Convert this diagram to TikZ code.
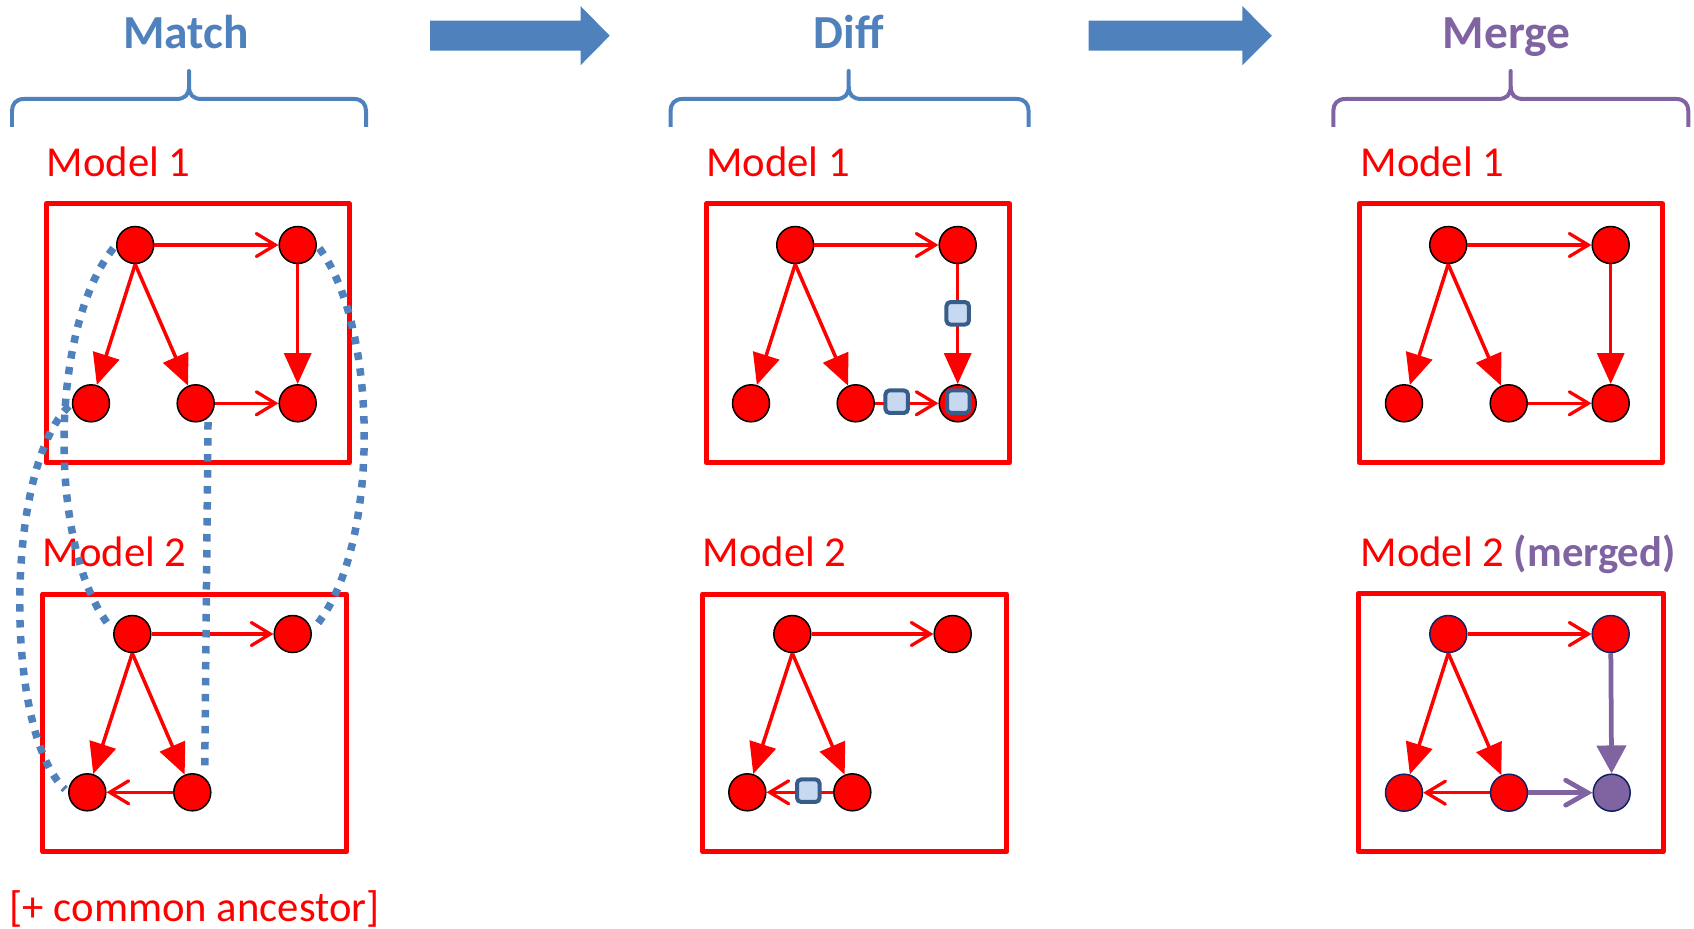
\documentclass[tikz,border=0pt]{standalone}
\usepackage{fontspec}
\setmainfont{Carlito}
\usetikzlibrary{arrows.meta}
\definecolor{obl}{RGB}{79,129,189}
\definecolor{opu}{RGB}{128,100,162}
\definecolor{mfill}{RGB}{198,217,241}
\definecolor{mdraw}{RGB}{56,93,138}
\definecolor{navy}{RGB}{16,32,96}
\tikzset{
 rn/.style={circle,fill=red,draw=black,line width=0.03cm,minimum size=0.74cm,inner sep=0pt},
 rnm/.style={rn,draw=navy},
 pn/.style={rnm,fill=opu},
 box/.style={draw=red,line width=0.1cm,line join=round},
 tri/.style={draw=red,line width=0.07cm,-{Triangle[length=0.62cm,width=0.54cm]}},
 bar/.style={draw=red,line width=0.065cm,-{Straight Barb[length=0.38cm,width=0.46cm,line cap=round]}},
 ptri/.style={draw=opu,line width=0.095cm,-{Triangle[length=0.56cm,width=0.58cm]}},
 pbar/.style={draw=opu,line width=0.095cm,-{Straight Barb[length=0.44cm,width=0.5cm,line cap=round]}},
 dmark/.style={rectangle,rounded corners=0.08cm,fill=mfill,draw=mdraw,line width=0.08cm,minimum size=0.45cm,inner sep=0pt},
 mlabel/.style={anchor=base west,inner sep=0pt,text=red,font=\fontsize{24.3}{29}\selectfont},
 title/.style={anchor=base,inner sep=0pt,font=\fontsize{27}{32}\selectfont\bfseries},
 brace/.style={line width=0.08cm,line join=round},
 dots/.style={draw=obl,line width=0.15cm,dash pattern=on 0.15cm off 0.17cm,shorten <=0.08cm,shorten >=0.08cm},
 bigarrow/.style={fill=obl},
}
\begin{document}
\begin{tikzpicture}[x=0.02cm,y=-0.02cm]
\useasboundingbox (0,0) rectangle (1694,929);

% titles
\node[title,text=obl] (tmatch) at (186,48.3) {Match};
\node[title,text=obl] (tdiff) at (848.5,48.3) {Diff};
\node[title,text=opu] (tmerge) at (1506.7,48.3) {Merge};

% big arrows
\fill[bigarrow] (430.2,20.7) -- (580.5,20.7) -- (580.5,6) -- (609.7,35.7) -- (580.5,65.3) -- (580.5,50.7) -- (430.2,50.7) -- cycle;
\fill[bigarrow] (1088.5,20.7) -- (1242.3,20.7) -- (1242.3,6) -- (1271.8,35.7) -- (1242.3,65.3) -- (1242.3,50.7) -- (1088.5,50.7) -- cycle;

% braces
\draw[brace,obl] (12,127) -- (12,111) .. controls (12,104) and (16,99) .. (24,99) -- (176,99) .. controls (185,99) and (189,95) .. (189,86) -- (189,71) -- (189,86) .. controls (189,95) and (193,99) .. (202,99) -- (354,99) .. controls (362,99) and (366,104) .. (366,111) -- (366,127);
\draw[brace,obl] (670.5,127) -- (670.5,111) .. controls (670.5,104) and (674.5,99) .. (682.5,99) -- (835.7,99) .. controls (844.7,99) and (848.7,95) .. (848.7,86) -- (848.7,71) -- (848.7,86) .. controls (848.7,95) and (852.7,99) .. (861.7,99) -- (1016.6,99) .. controls (1024.6,99) and (1028.6,104) .. (1028.6,111) -- (1028.6,127);
\draw[brace,opu] (1333.3,127) -- (1333.3,111) .. controls (1333.3,104) and (1337.3,99) .. (1345.3,99) -- (1497.7,99) .. controls (1506.7,99) and (1510.7,95) .. (1510.7,86) -- (1510.7,71) -- (1510.7,86) .. controls (1510.7,95) and (1514.7,99) .. (1523.7,99) -- (1676.3,99) .. controls (1684.3,99) and (1688.3,104) .. (1688.3,111) -- (1688.3,127);

% labels
\node[mlabel] (lm1) at (46.5,176.7) {Model 1};
\node[mlabel] (lm2) at (42.5,566.3) {Model 2};
\node[mlabel] (ld1) at (705.8,176.7) {Model 1};
\node[mlabel] (ld2) at (702.5,566.3) {Model 2};
\node[mlabel] (lg1) at (1360.2,176.7) {Model 1};
\node[mlabel] (lg2) at (1360.2,566) {Model 2 \textcolor{opu}{\bfseries(merged)}};
\node[mlabel] (lca) at (9.5,921.5) {[+ common ancestor]};

% boxes
\draw[box] (46,204) rectangle (349.5,462.7);
\draw[box] (42.7,594) rectangle (346.7,851.7);
\draw[box] (706,204) rectangle (1009.5,462.7);
\draw[box] (702.7,594) rectangle (1006.7,851.7);
\draw[box] (1359,204) rectangle (1662.5,462.7);
\draw[box] (1358.3,593.3) rectangle (1663.3,851.7);

% Match nodes
\node[rn] (ma) at (135.2,245) {};
\node[rn] (mb) at (297.7,245) {};
\node[rn] (mc) at (91,403.3) {};
\node[rn] (md) at (195.7,403.3) {};
\node[rn] (me) at (297.7,403.3) {};
\node[rn] (mf) at (132.3,634) {};
\node[rn] (mg) at (292.7,634) {};
\node[rn] (mh) at (87.3,792.3) {};
\node[rn] (mi) at (192.3,792.3) {};
% Diff nodes
\node[rn] (da) at (795.2,245) {};
\node[rn] (db) at (957.7,245) {};
\node[rn] (dc) at (751,403.3) {};
\node[rn] (dd) at (855.7,403.3) {};
\node[rn] (de) at (957.7,403.3) {};
\node[rn] (df) at (792.3,634) {};
\node[rn] (dg) at (952.7,634) {};
\node[rn] (dh) at (747.3,792.3) {};
\node[rn] (di) at (852.3,792.3) {};
% Merge nodes
\node[rn] (ga) at (1448.2,245) {};
\node[rn] (gb) at (1610.7,245) {};
\node[rn] (gc) at (1404,403.3) {};
\node[rn] (gd) at (1508.7,403.3) {};
\node[rn] (ge) at (1610.7,403.3) {};
\node[rnm] (gf) at (1448.3,634) {};
\node[rnm] (gg) at (1610.7,634) {};
\node[rnm] (gh) at (1404,792.7) {};
\node[rnm] (gi) at (1509,792.7) {};
\node[pn] (gj) at (1611.7,792.7) {};

% Match edges
\draw[bar] (ma) -- (mb);
\draw[tri] (ma.south) -- (mc);
\draw[tri] (ma.south) -- (md);
\draw[tri] (mb) -- (me);
\draw[bar] (md) -- (me);
\draw[bar] (mf) -- (mg);
\draw[tri] (mf.south) -- (mh);
\draw[tri] (mf.south) -- (mi);
\draw[bar] (mi) -- (mh);
% Diff edges
\draw[bar] (da) -- (db);
\draw[tri] (da.south) -- (dc);
\draw[tri] (da.south) -- (dd);
\draw[tri] (db) -- (de);
\draw[bar] (dd) -- (de);
\draw[bar] (df) -- (dg);
\draw[tri] (df.south) -- (dh);
\draw[tri] (df.south) -- (di);
\draw[bar] (di) -- (dh);
% Merge edges
\draw[bar] (ga) -- (gb);
\draw[tri] (ga.south) -- (gc);
\draw[tri] (ga.south) -- (gd);
\draw[tri] (gb) -- (ge);
\draw[bar] (gd) -- (ge);
\draw[bar] (gf) -- (gg);
\draw[tri] (gf.south) -- (gh);
\draw[tri] (gf.south) -- (gi);
\draw[bar] (gi) -- (gh);
\draw[ptri] (gg) -- (gj);
\draw[pbar] (gi) -- (gj);

% diff markers
\node[dmark] (x1) at (957.7,313.3) {};
\node[dmark] (x2) at (896.7,401.7) {};
\node[dmark] (x3) at (958.3,401.7) {};
\node[dmark] (x4) at (808.3,790.7) {};

% match correspondences
\draw[dots] (mc.west) .. controls (4,470) and (4,732) .. (mh.west);
\draw[dots] (ma.west) .. controls (48,330) and (48,551) .. (mf.170);
\draw[dots] (mb.east) .. controls (380,330) and (380,552) .. (mg.10);
\draw[dots] (md.-50) -- (mi.50);
\end{tikzpicture}
\end{document}
